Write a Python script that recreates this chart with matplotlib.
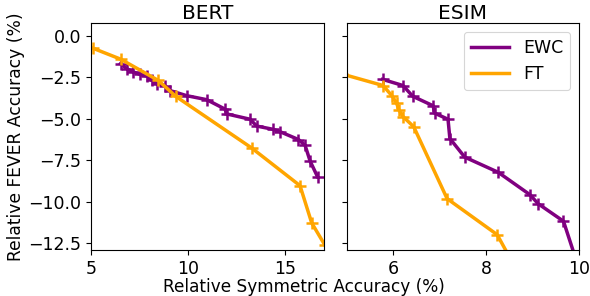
import matplotlib
matplotlib.use("Agg")
import matplotlib.pyplot as plt

# BERT panel
bert_ewc_x = [6.53, 6.84, 7.18, 7.53, 7.87, 8.13, 8.42, 8.81, 9.07, 9.93, 10.96, 11.91, 12.0,
              13.2, 13.54, 14.40, 14.74, 15.69, 16.03, 16.29, 16.67]
bert_ewc_y = [-1.67, -1.97, -2.17, -2.32, -2.42, -2.68, -2.89, -2.99, -3.29, -3.60, -3.84, -4.41, -4.70,
              -5.02, -5.43, -5.63, -5.77, -6.24, -6.59, -7.54, -8.48]
bert_ft_x = [5.12, 6.53, 8.47, 9.37, 13.28, 15.77, 16.37, 17.05]
bert_ft_y = [-0.75, -1.40, -2.68, -3.64, -6.75, -9.02, -11.26, -12.6]

# ESIM panel
esim_ewc_x = [5.77, 6.21, 6.42, 6.86, 6.89, 7.18, 7.22, 7.54, 8.26, 8.95, 9.12, 9.67, 9.92]
esim_ewc_y = [-2.62, -2.99, -3.64, -4.21, -4.65, -5.02, -6.18, -7.30, -8.21, -9.57, -10.10, -11.16, -13.3]
esim_ft_x = [4.9, 5.78, 5.98, 6.07, 6.12, 6.21, 6.44, 7.16, 8.24, 8.6]
esim_ft_y = [-2.3, -2.99, -3.64, -4.04, -4.45, -4.86, -5.47, -9.80, -11.97, -13.8]

c_ewc = 'purple'
c_ft = 'orange'

fig = plt.figure(figsize=(5.9, 2.96), dpi=100)
ax1 = fig.add_axes([0.154, 0.155, 0.395, 0.767])
ax2 = fig.add_axes([0.588, 0.155, 0.393, 0.767], sharey=ax1)

style = dict(lw=2.5, marker='+', ms=9, mew=1.8)
ax1.plot(bert_ewc_x, bert_ewc_y, color=c_ewc, label='EWC', **style)
ax1.plot(bert_ft_x, bert_ft_y, color=c_ft, label='FT', **style)
ax2.plot(esim_ewc_x, esim_ewc_y, color=c_ewc, label='EWC', **style)
ax2.plot(esim_ft_x, esim_ft_y, color=c_ft, label='FT', **style)

ax1.set_xlim(5, 17)
ax2.set_xlim(5, 10)
ax1.set_ylim(-12.9, 0.77)
ax1.set_xticks([5, 10, 15])
ax2.set_xticks([6, 8, 10])
ax1.set_yticks([0.0, -2.5, -5.0, -7.5, -10.0, -12.5])
plt.setp(ax2.get_yticklabels(), visible=False)

for ax in (ax1, ax2):
    ax.tick_params(labelsize=12.5)
ax1.set_title('BERT', fontsize=14.5, pad=3)
ax2.set_title('ESIM', fontsize=14.5, pad=3)
ax1.set_ylabel('Relative FEVER Accuracy (%)', fontsize=12.3, labelpad=2)
fig.text(0.515, 0.0, 'Relative Symmetric Accuracy (%)', ha='center', va='bottom', fontsize=12.2)

leg = ax2.legend(loc='upper right', fontsize=12.5, handlelength=2.2)
leg.get_frame().set_linewidth(0.8)
for h in leg.legend_handles:
    h.set_marker('')

fig.savefig('out.png', dpi=100)
